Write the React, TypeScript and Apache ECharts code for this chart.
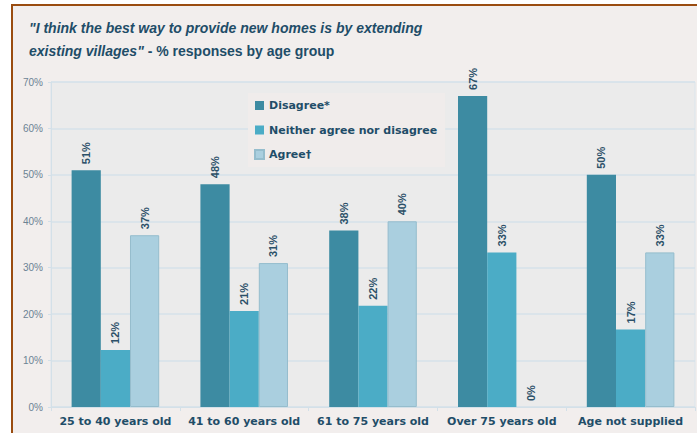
import React, { useEffect, useRef } from "react";
import * as echarts from "echarts";

const categories = [
  "25 to 40 years old",
  "41 to 60 years old",
  "61 to 75 years old",
  "Over 75 years old",
  "Age not supplied",
];
const seriesNames = ["Disagree*", "Neither agree nor disagree", "Agree†"];
const disagree = [51, 48, 38, 67, 50];
const neither = [12.3, 20.7, 21.8, 33.3, 16.7];
const agree = [37, 31, 40, 0, 33.3];
const yMax = 70;
const yInterval = 10;

const TEXT_DARK = "#1f4d68";
const SANS = "Liberation Sans, Arial, sans-serif";
const WIDE = "DejaVu Sans, Verdana, sans-serif";

export default function App() {
  const ref = useRef<HTMLDivElement>(null);
  useEffect(() => {
    document.body.style.margin = "0";
    const chart = echarts.init(ref.current!, undefined, { renderer: "svg" });
    const label = {
      show: true,
      position: "top",
      rotate: 90,
      align: "left",
      verticalAlign: "middle",
      distance: 6,
      fontFamily: SANS,
      fontWeight: "bold",
      fontSize: 11,
      color: "#2b5068",
      formatter: (p: any) => Math.round(p.value) + "%",
    };
    const colors = ["#3d8ba2", "#4bacc6", "#aacfdf"];
    const data = [disagree, neither, agree];
    chart.setOption({
      animation: false,
      backgroundColor: "#ffffff",
      textStyle: { fontFamily: SANS },
      graphic: [
        {
          type: "rect",
          z: -10,
          silent: true,
          shape: { x: 12, y: 5, width: 720, height: 460 },
          style: { fill: "#f2eeed", stroke: "#9a4c10", lineWidth: 2 },
        },
      ],
      title: {
        left: 24,
        top: 11,
        text:
          '{it|"I think the best way to provide new homes is by extending}\n{it|existing villages"}{n| - % responses by age group}',
        textStyle: {
          rich: {
            it: {
              fontFamily: SANS,
              fontStyle: "italic",
              fontWeight: "bold",
              fontSize: 14,
              lineHeight: 23,
              color: TEXT_DARK,
            },
            n: {
              fontFamily: SANS,
              fontWeight: "bold",
              fontSize: 14,
              lineHeight: 23,
              color: TEXT_DARK,
            },
          },
        },
      },
      legend: {
        orient: "vertical",
        left: 248,
        top: 93,
        padding: [7, 8, 7, 6],
        itemGap: 13.5,
        itemWidth: 9,
        itemHeight: 9,
        backgroundColor: "#f0eceb",
        icon: "rect",
        textStyle: {
          fontFamily: WIDE,
          fontWeight: "bold",
          fontSize: 11,
          color: TEXT_DARK,
        },
        data: seriesNames,
      },
      grid: {
        left: 51,
        right: 2,
        top: 82,
        bottom: 26,
        show: true,
        backgroundColor: "#ebebeb",
        borderColor: "#dbe5ec",
        borderWidth: 1,
      },
      xAxis: {
        type: "category",
        data: categories,
        axisLine: { lineStyle: { color: "#d3e0e8", width: 1 } },
        axisTick: { show: true, length: 4, lineStyle: { color: "#d3e0e8" } },
        axisLabel: {
          fontFamily: WIDE,
          fontWeight: "bold",
          fontSize: 11,
          color: TEXT_DARK,
          margin: 9,
          interval: 0,
        },
      },
      yAxis: {
        type: "value",
        min: 0,
        max: yMax,
        interval: yInterval,
        axisLine: { show: true, lineStyle: { color: "#d3e0e8" } },
        axisTick: { show: true, length: 3, lineStyle: { color: "#d3e0e8" } },
        splitLine: { lineStyle: { color: "#d6e2ea", width: 1.5 } },
        axisLabel: {
          formatter: "{value}%",
          fontFamily: SANS,
          fontSize: 10,
          color: "#6c8394",
          margin: 8,
        },
      },
      series: seriesNames.map((name, i) => ({
        name,
        type: "bar",
        data: data[i].map((v) =>
          v === 0 ? { value: v, itemStyle: { borderWidth: 0 } } : v
        ),
        barGap: "0%",
        barCategoryGap: "32%",
        itemStyle: {
          color: colors[i],
          borderColor: i === 2 ? "#95bdcd" : colors[i],
          borderWidth: i === 2 ? 1 : 0,
        },
        label,
      })),
    });
    return () => chart.dispose();
  }, []);
  return (
    <div
      ref={ref}
      style={{ position: "absolute", left: 0, top: 0, width: 697, height: 433 }}
    />
  );
}
